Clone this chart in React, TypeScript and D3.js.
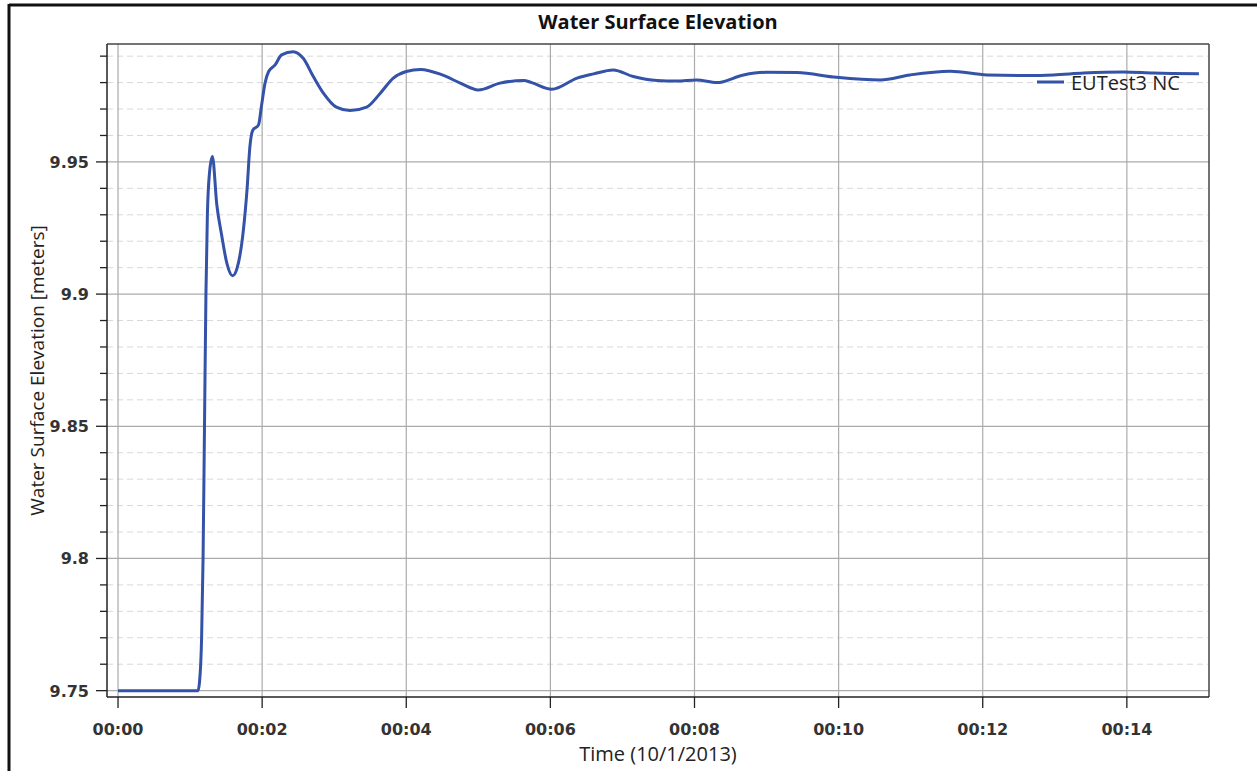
import React from "react";
import * as d3 from "d3";

const timeMinutes = [0, 1.11, 1.13, 1.16, 1.18, 1.2, 1.22, 1.24, 1.27, 1.31, 1.37, 1.44, 1.51, 1.59, 1.67, 1.74, 1.79, 1.83, 1.87, 1.95, 1.99, 2.04, 2.09, 2.18, 2.27, 2.43, 2.57, 2.71, 2.85, 3.03, 3.22, 3.45, 3.64, 3.82, 4.0, 4.2, 4.5, 4.75, 5.0, 5.3, 5.63, 5.74, 6.02, 6.37, 6.6, 6.87, 7.15, 7.48, 7.75, 8.03, 8.31, 8.68, 9.0, 9.42, 9.97, 10.58, 10.99, 11.55, 12.06, 12.61, 12.98, 13.4, 13.95, 14.37, 15.0];
const elevation = [9.75, 9.75, 9.753, 9.77, 9.8, 9.85, 9.9, 9.93, 9.946, 9.952, 9.934, 9.922, 9.9117, 9.9069, 9.9117, 9.9243, 9.9394, 9.9558, 9.962, 9.964, 9.971, 9.9798, 9.9842, 9.9867, 9.9905, 9.9917, 9.9892, 9.9823, 9.976, 9.9707, 9.9694, 9.9707, 9.976, 9.9817, 9.9842, 9.985, 9.9829, 9.9798, 9.9772, 9.9798, 9.9808, 9.98, 9.9775, 9.9817, 9.9833, 9.9848, 9.9823, 9.9808, 9.9806, 9.981, 9.98, 9.9829, 9.9839, 9.9838, 9.982, 9.981, 9.9829, 9.9843, 9.9829, 9.9827, 9.9829, 9.9836, 9.984, 9.9836, 9.9833];
const xTicks = [0, 2, 4, 6, 8, 10, 12, 14];
const yMajorTicks = [9.75, 9.8, 9.85, 9.9, 9.95];
const yMinorTicks = [9.76, 9.77, 9.78, 9.79, 9.81, 9.82, 9.83, 9.84, 9.86, 9.87, 9.88, 9.89, 9.91, 9.92, 9.93, 9.94, 9.96, 9.97, 9.98, 9.99];
const seriesName = "EUTest3 NC";
const chartTitle = "Water Surface Elevation";
const xTitle = "Time (10/1/2013)";
const yTitle = "Water Surface Elevation [meters]";

const L = 107, R = 1209, T = 44, B = 697;
const FONT = "'DejaVu Sans', sans-serif";
const SANS = "'Open Sans', sans-serif";
const LINE = "#3352a8";

function fmtTime(m: number) {
  const mm = String(Math.floor(m / 60)).padStart(2, "0");
  const ss = String(m % 60).padStart(2, "0");
  return `${mm}:${ss}`;
}

export default function App() {
  const x = d3.scaleLinear().domain([-0.153, 15.14]).range([L, R]);
  const y = d3.scaleLinear().domain([9.7476, 9.9946]).range([B, T]);
  const data = timeMinutes.map((t, i) => [t, elevation[i]] as [number, number]);
  const line = d3.line<[number, number]>().x(d => x(d[0])).y(d => y(d[1])).curve(d3.curveMonotoneX);
  const yFmt = d3.format("");
  return (
    <svg width={1257} height={771} style={{ position: "absolute", left: 0, top: 0, background: "#fff" }}>
      <rect x={0} y={0} width={1257} height={771} fill="#fff" />
      <line x1={9} y1={5} x2={1257} y2={5} stroke="#111" strokeWidth={3} />
      <line x1={9} y1={4} x2={9} y2={771} stroke="#111" strokeWidth={3} />
      <text x={(L + R) / 2} y={29} textAnchor="middle" fontFamily={SANS} fontWeight="bold" fontSize={20} fill="#111">{chartTitle}</text>
      {yMinorTicks.map(v => (
        <line key={"ym" + v} x1={L} x2={R} y1={y(v)} y2={y(v)} stroke="#d8d8d8" strokeWidth={1} strokeDasharray="6,4" />
      ))}
      {yMajorTicks.map(v => (
        <line key={"yM" + v} x1={L} x2={R} y1={y(v)} y2={y(v)} stroke="#ababab" strokeWidth={1.2} />
      ))}
      {xTicks.map(v => (
        <line key={"xg" + v} x1={x(v)} x2={x(v)} y1={T} y2={B} stroke="#ababab" strokeWidth={1.2} />
      ))}
      <path d={line(data) || ""} fill="none" stroke={LINE} strokeWidth={3} strokeLinejoin="round" />
      <line x1={L} x2={R} y1={T} y2={T} stroke="#444" strokeWidth={1.5} />
      <line x1={R} x2={R} y1={T} y2={B} stroke="#444" strokeWidth={1.5} />
      <line x1={L} x2={R} y1={B} y2={B} stroke="#222" strokeWidth={1.5} />
      <line x1={L} x2={L} y1={T} y2={B} stroke="#222" strokeWidth={1.5} />
      {yMinorTicks.map(v => (
        <line key={"ymt" + v} x1={L - 7} x2={L} y1={y(v)} y2={y(v)} stroke="#222" strokeWidth={1.3} />
      ))}
      {yMajorTicks.map(v => (
        <g key={"yt" + v}>
          <line x1={L - 11} x2={L} y1={y(v)} y2={y(v)} stroke="#222" strokeWidth={1.3} />
          <text x={L - 18} y={y(v) + 6} textAnchor="end" fontFamily={FONT} fontWeight="bold" fontSize={16} fill="#333">{yFmt(v)}</text>
        </g>
      ))}
      {xTicks.map(v => (
        <g key={"xt" + v}>
          <line x1={x(v)} x2={x(v)} y1={B} y2={B + 11} stroke="#222" strokeWidth={1.3} />
          <text x={x(v)} y={735} textAnchor="middle" fontFamily={FONT} fontWeight="bold" fontSize={16} fill="#333">{fmtTime(v)}</text>
        </g>
      ))}
      <text x={(L + R) / 2} y={761} textAnchor="middle" fontFamily={SANS} fontSize={20} fill="#222">{xTitle}</text>
      <text transform={`translate(44, ${(T + B) / 2}) rotate(-90)`} textAnchor="middle" fontFamily={SANS} fontSize={19} fill="#222">{yTitle}</text>
      <line x1={1037} x2={1064} y1={82} y2={82} stroke={LINE} strokeWidth={3} />
      <text x={1071} y={90} fontFamily={SANS} fontSize={20} fill="#222">{seriesName}</text>
    </svg>
  );
}
